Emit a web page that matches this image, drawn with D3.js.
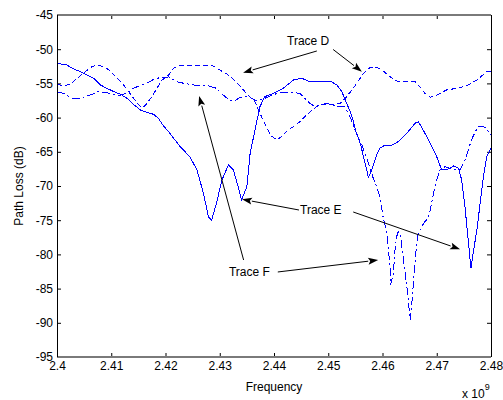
<!DOCTYPE html>
<html><head><meta charset="utf-8">
<script src="https://cdn.jsdelivr.net/npm/d3@7/dist/d3.min.js"></script>
<style>
body{margin:0;background:#fff}
text{font-family:"Liberation Sans",Arial,Helvetica,sans-serif;fill:#000}
</style>
</head><body>
<svg id="chart" width="503" height="400"></svg>
<script>
// ---- Data (frequency in GHz, i.e. x 10^9 Hz; path loss in dB) ----
const freqE = [2.4000,2.4018,2.4031,2.4043,2.4055,2.4068,2.4080,2.4092,2.4105,2.4117,2.4129,2.4141,2.4154,2.4166,2.4178,2.4187,2.4195,2.4208,2.4227,2.4245,2.4258,2.4270,2.4279,2.4285,2.4294,2.4304,2.4316,2.4325,2.4334,2.4340,2.4350,2.4356,2.4365,2.4374,2.4383,2.4399,2.4417,2.4436,2.4451,2.4466,2.4485,2.4503,2.4516,2.4525,2.4534,2.4543,2.4552,2.4559,2.4565,2.4571,2.4574,2.4580,2.4589,2.4595,2.4605,2.4617,2.4629,2.4645,2.4660,2.4666,2.4675,2.4688,2.4700,2.4709,2.4718,2.4731,2.4740,2.4746,2.4752,2.4758,2.4763,2.4767,2.4774,2.4780,2.4786,2.4792,2.4800];
const lossE = [-52.06,-52.31,-52.89,-53.28,-53.77,-54.25,-55.23,-55.72,-56.21,-56.59,-57.18,-58.06,-58.89,-59.23,-59.52,-60.10,-61.08,-62.29,-64.25,-65.72,-67.66,-71.07,-74.49,-74.97,-72.53,-69.12,-66.93,-67.66,-70.10,-72.05,-70.10,-65.22,-61.81,-58.41,-56.94,-56.45,-55.72,-54.50,-54.25,-54.75,-54.75,-54.65,-55.23,-56.21,-57.91,-59.62,-62.29,-63.76,-65.72,-67.66,-68.73,-67.66,-65.47,-64.49,-64.01,-64.01,-63.52,-62.29,-60.83,-60.60,-61.81,-63.76,-65.72,-67.66,-67.66,-67.08,-67.41,-69.12,-73.03,-77.89,-82.03,-79.84,-76.43,-72.53,-68.64,-65.72,-64.49];

const freqD = [2.4000,2.4012,2.4025,2.4037,2.4049,2.4061,2.4070,2.4080,2.4092,2.4105,2.4114,2.4123,2.4132,2.4141,2.4151,2.4157,2.4165,2.4175,2.4184,2.4194,2.4206,2.4215,2.4227,2.4245,2.4264,2.4285,2.4300,2.4313,2.4325,2.4337,2.4347,2.4356,2.4365,2.4377,2.4383,2.4393,2.4405,2.4414,2.4426,2.4436,2.4448,2.4457,2.4470,2.4485,2.4503,2.4522,2.4534,2.4546,2.4565,2.4574,2.4586,2.4599,2.4614,2.4626,2.4645,2.4660,2.4669,2.4678,2.4688,2.4700,2.4718,2.4737,2.4755,2.4774,2.4792,2.4800];
const lossD = [-55.13,-55.34,-55.13,-54.25,-53.52,-52.70,-52.38,-52.41,-52.79,-53.77,-54.50,-55.23,-56.21,-57.18,-58.16,-58.60,-58.01,-56.94,-55.72,-54.50,-53.77,-52.79,-52.31,-52.31,-52.46,-52.31,-53.04,-53.63,-54.36,-55.38,-56.26,-56.99,-57.72,-59.87,-60.83,-62.54,-63.27,-62.79,-61.81,-61.33,-60.60,-59.87,-58.89,-58.01,-58.16,-57.91,-56.94,-55.72,-53.52,-52.79,-52.56,-53.04,-54.02,-54.65,-54.75,-54.75,-55.48,-56.45,-57.03,-56.70,-55.96,-55.72,-55.38,-54.50,-53.29,-53.19];

const freqF = [2.4000,2.4012,2.4027,2.4039,2.4050,2.4064,2.4076,2.4090,2.4104,2.4116,2.4129,2.4141,2.4153,2.4165,2.4178,2.4190,2.4206,2.4221,2.4234,2.4252,2.4264,2.4279,2.4294,2.4304,2.4313,2.4322,2.4330,2.4337,2.4350,2.4359,2.4367,2.4378,2.4390,2.4411,2.4429,2.4448,2.4457,2.4466,2.4476,2.4485,2.4497,2.4509,2.4522,2.4531,2.4540,2.4552,2.4562,2.4571,2.4577,2.4583,2.4589,2.4595,2.4601,2.4608,2.4611,2.4614,2.4615,2.4620,2.4623,2.4626,2.4629,2.4632,2.4635,2.4638,2.4641,2.4645,2.4648,2.4651,2.4654,2.4657,2.4660,2.4663,2.4666,2.4672,2.4678,2.4684,2.4688,2.4694,2.4700,2.4706,2.4715,2.4724,2.4734,2.4743,2.4752,2.4758,2.4764,2.4771,2.4777,2.4783,2.4789,2.4795,2.4800];
const lossF = [-56.30,-56.45,-57.13,-57.21,-56.99,-56.62,-56.18,-56.33,-56.62,-56.77,-56.40,-55.72,-55.31,-54.99,-54.43,-54.14,-54.06,-54.75,-54.99,-55.23,-55.34,-55.34,-55.72,-56.55,-57.13,-57.57,-57.43,-57.06,-56.94,-57.18,-57.57,-57.35,-56.94,-56.30,-56.30,-56.45,-57.18,-57.91,-58.41,-58.16,-57.91,-58.16,-58.41,-58.45,-59.87,-62.29,-64.01,-65.95,-67.41,-68.87,-70.10,-71.56,-74.49,-76.92,-79.36,-81.80,-84.47,-82.76,-79.36,-77.41,-76.68,-76.92,-78.38,-80.34,-82.28,-84.72,-87.15,-89.59,-87.15,-84.23,-81.30,-78.38,-76.92,-75.95,-75.22,-74.72,-73.51,-71.07,-69.12,-67.66,-67.18,-67.41,-67.56,-67.66,-66.20,-64.74,-63.27,-62.06,-61.37,-61.23,-61.42,-62.06,-62.54];

const xTicks = [2.40,2.41,2.42,2.43,2.44,2.45,2.46,2.47,2.48];
const xTickLabels = ["2.4","2.41","2.42","2.43","2.44","2.45","2.46","2.47","2.48"];
const yTicks = [-45,-50,-55,-60,-65,-70,-75,-80,-85,-90,-95];
const yTickLabels = ["-45","-50","-55","-60","-65","-70","-75","-80","-85","-90","-95"];

// annotation labels: [text, freq, dB]
const labelNames = ["Trace D","Trace E","Trace F"];
const labelFreq  = [2.4424, 2.4448, 2.4317];
const labelLoss  = [-48.8, -73.5, -82.5];
// arrows: from (freq,dB) to tip (freq,dB)
const arrowFromF = [2.4479, 2.4509, 2.4446, 2.4546, 2.4344, 2.4407];
const arrowFromL = [-50.26, -50.04, -73.51, -73.80, -80.82, -82.57];
const arrowToF   = [2.4343, 2.4562, 2.4341, 2.4743, 2.4262, 2.4592];
const arrowToL   = [-53.44, -53.29, -71.94, -79.25, -56.84, -80.82];

// ---- Drawing ----
const svg = d3.select("#chart");
const L = 57, R = 491, T = 15, B = 357;
const x = d3.scaleLinear().domain([2.40, 2.48]).range([L, R]);
const y = d3.scaleLinear().domain([-95, -45]).range([B, T]);

svg.append("rect").attr("width",503).attr("height",400).attr("fill","#fff");

const fs = 12;
// axes
const gB = svg.append("g").attr("transform",`translate(0,${B})`)
  .call(d3.axisBottom(x).tickValues(xTicks).tickFormat((d,i)=>xTickLabels[i]).tickSize(-4).tickPadding(4));
const gL = svg.append("g").attr("transform",`translate(${L},0)`)
  .call(d3.axisLeft(y).tickValues(yTicks).tickFormat((d,i)=>yTickLabels[i]).tickSize(-4).tickPadding(4));
const gT = svg.append("g").attr("transform",`translate(0,${T})`)
  .call(d3.axisTop(x).tickValues(xTicks).tickFormat("").tickSize(-4));
const gR = svg.append("g").attr("transform",`translate(${R},0)`)
  .call(d3.axisRight(y).tickValues(yTicks).tickFormat("").tickSize(-4));
[gB,gL,gT,gR].forEach(g=>{
  g.select(".domain").remove();
  g.selectAll(".tick line").attr("stroke","#000").attr("stroke-width",1);
  g.selectAll("text").attr("font-size",fs).attr("font-family","Liberation Sans, Arial, sans-serif").attr("fill","#000");
});

// traces
const line = d3.line().x(d=>x(d[0])).y(d=>y(d[1]));
const series = [
  {f:freqE, v:lossE, dash:null},
  {f:freqD, v:lossD, dash:"5,3"},
  {f:freqF, v:lossF, dash:"8,3,2,3"}
];
const clip = svg.append("clipPath").attr("id","pc").append("rect")
  .attr("x",L).attr("y",T).attr("width",R-L).attr("height",B-T);
const gp = svg.append("g").attr("clip-path","url(#pc)");
series.forEach(s=>{
  gp.append("path").datum(s.f.map((f,i)=>[f,s.v[i]]))
    .attr("d",line).attr("fill","none").attr("stroke","#0000ff").attr("stroke-width",1)
    .attr("shape-rendering","crispEdges")
    .attr("stroke-dasharray",s.dash);
});

// box
svg.append("line").attr("x1",L).attr("x2",R).attr("y1",T).attr("y2",T).attr("stroke","#7a7a7a").attr("stroke-width",2);
svg.append("line").attr("x1",L).attr("x2",R).attr("y1",B).attr("y2",B).attr("stroke","#7a7a7a").attr("stroke-width",2);
svg.append("line").attr("x1",L+0.5).attr("x2",L+0.5).attr("y1",T).attr("y2",B).attr("stroke","#000").attr("stroke-width",1);
svg.append("line").attr("x1",R+0.5).attr("x2",R+0.5).attr("y1",T).attr("y2",B).attr("stroke","#000").attr("stroke-width",1);

// annotations
labelNames.forEach((t,i)=>{
  svg.append("text").attr("x",x(labelFreq[i])).attr("y",y(labelLoss[i]))
    .attr("dy","0.35em").attr("font-size",fs).text(t);
});
arrowFromF.forEach((f0,i)=>{
  const x0=x(f0), y0=y(arrowFromL[i]), x1=x(arrowToF[i]), y1=y(arrowToL[i]);
  const ang=Math.atan2(y1-y0,x1-x0), hl=10, hw=3.5;
  const bx=x1-hl*Math.cos(ang), by=y1-hl*Math.sin(ang);
  svg.append("line").attr("x1",x0).attr("y1",y0).attr("x2",bx).attr("y2",by)
    .attr("stroke","#000").attr("stroke-width",1);
  const px=-Math.sin(ang), py=Math.cos(ang);
  svg.append("path").attr("d",`M${x1},${y1}L${bx+px*hw},${by+py*hw}L${bx+2*Math.cos(ang)},${by+2*Math.sin(ang)}L${bx-px*hw},${by-py*hw}Z`)
    .attr("fill","#000");
});

// axis titles
svg.append("text").attr("x",(L+R)/2).attr("y",391).attr("text-anchor","middle").attr("font-size",fs).text("Frequency");
svg.append("text").attr("transform",`translate(23,${(T+B)/2}) rotate(-90)`).attr("text-anchor","middle").attr("font-size",fs).text("Path Loss (dB)");
const ex = svg.append("text").attr("x",462).attr("y",398).attr("font-size",fs);
ex.append("tspan").text("x 10");
ex.append("tspan").attr("font-size",9).attr("dy",-8).text("9");
</script>
</body></html>
